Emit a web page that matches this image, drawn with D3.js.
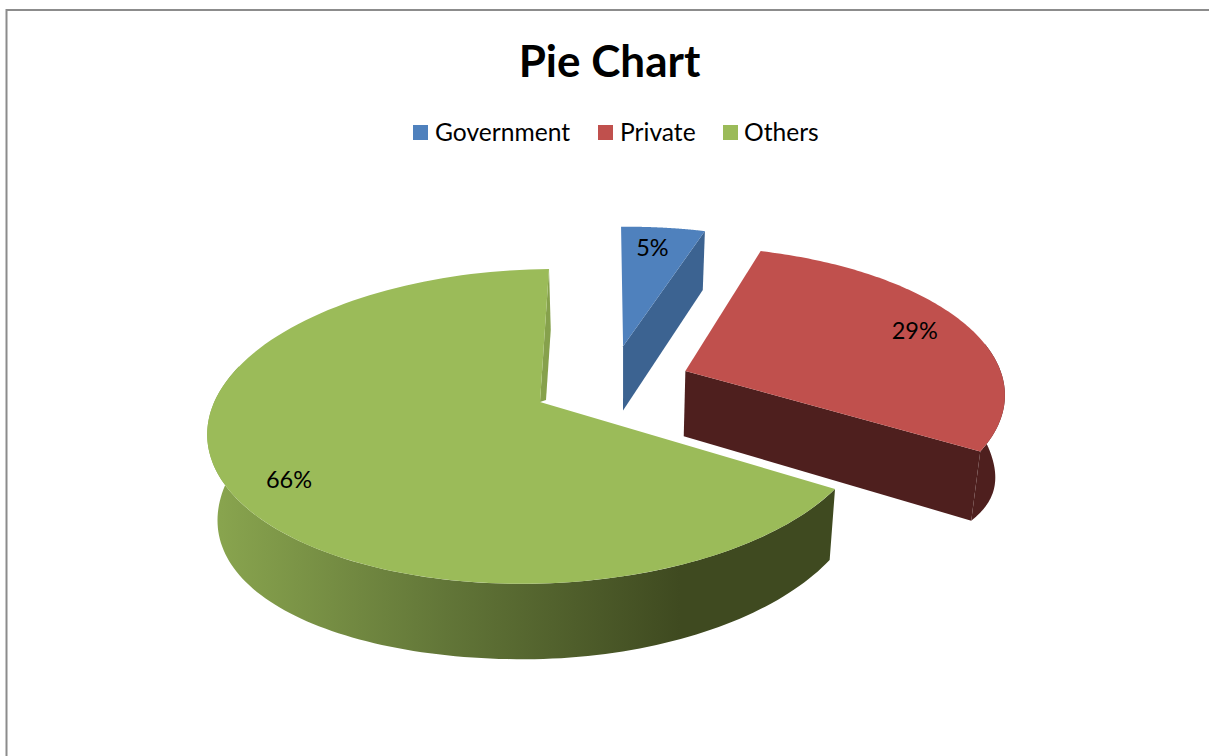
<!DOCTYPE html>
<html>
<head>
<meta charset="utf-8">
<script src="https://cdn.jsdelivr.net/npm/d3@7/dist/d3.min.js"></script>
<style>
html,body{margin:0;padding:0;background:#fff;overflow:hidden}
text{font-family:Lato,"Open Sans",sans-serif;fill:#000}
</style>
</head>
<body>
<svg id="chart" width="1209" height="756"></svg>
<script>
const categories = ["Government", "Private", "Others"];
const values = [5, 29, 66];
const colors = ["#4f81bd", "#c0504d", "#9bbb59"];
const sideColors = ["#3c6391", "#4e1f1e", "url(#greenSide)"];
const explodeU = [0.257, 0.452, 0];
const explodeV = [0.38, 0.2, 0];
const radii = [1, 0.99, 1];
const legendIconX = [413, 598, 723];
const legendTextX = [435, 620, 744];
const labelDx = [-4, 3, -3];
const labelDy = [0, 0, 13];
const titleText = "Pie Chart";

const svg = d3.select("#chart");
const defs = svg.append("defs");
const grad = defs.append("linearGradient").attr("id", "greenSide")
  .attr("gradientUnits", "userSpaceOnUse").attr("x1", 210).attr("x2", 680).attr("y1", 0).attr("y2", 0);
[[0, "#8aa64f"], [0.5, "#627638"], [1, "#3f4a20"]].forEach(([o, c]) =>
  grad.append("stop").attr("offset", o).attr("stop-color", c));

// frame
svg.append("path").attr("d", d3.line()([[6.5, 756], [6.5, 10], [1209, 10]]))
  .attr("fill", "none").attr("stroke", "#8c8c8c").attr("stroke-width", 2);

// title & legend
svg.append("text").attr("x", 609.5).attr("y", 77).attr("text-anchor", "middle")
  .attr("font-size", 44).attr("font-weight", 700).text(titleText);
categories.forEach((c, i) => {
  svg.append("rect").attr("x", legendIconX[i]).attr("y", 125).attr("width", 15).attr("height", 15).attr("fill", colors[i]);
  svg.append("text").attr("x", legendTextX[i]).attr("y", 141).attr("font-size", 24.6).text(c);
});

const arcs = d3.pie().sort(null).value(d => d)(values);
const deg = Math.PI / 180;
const seam = arcs[1].endAngle;

// perspective projection of the pie plane
function project(u, v) {
  const s = 1 / (1 + 0.155 * v);
  return [540 + (327 * u + 10.4 * v) * s, 402 - (3 * u + 153.6 * v) * s];
}
function wallExtra(a) {
  if (a <= 90 * deg) return 18;
  if (a < seam) return 18 * Math.cos((a - 90 * deg) / (seam - 90 * deg) * Math.PI / 2);
  if (a <= 180 * deg) return 0;
  if (a <= 270 * deg) return 18 * Math.sin(a) ** 2;
  return 18;
}
function lower(p, a = null) {
  const extra = a === null ? 0 : wallExtra(a);
  return [620 + (p[0] - 620) * 0.975, p[1] + 59 + (p[1] - 234) * 0.047 + extra];
}
const line = d3.line();
const rimPoint = (i, a, r = radii[i]) => project(explodeU[i] + r * Math.sin(a), explodeV[i] + r * Math.cos(a));
const apex = i => project(explodeU[i], explodeV[i]);
const sweep = (a0, a1) => d3.range(0, 121).map(t => a0 + (a1 - a0) * t / 120);

function drawSlice(i) {
  const a = arcs[i];
  const rim = sweep(a.startAngle, a.endAngle).map(t => rimPoint(i, t));
  const g = svg.append("g");
  // outer wall
  const wall0 = Math.max(a.startAngle, 80 * deg), wall1 = Math.min(a.endAngle, 285 * deg);
  if (wall1 > wall0) {
    const ts = sweep(wall0, wall1);
    const w = ts.map(t => rimPoint(i, t));
    const b = ts.map(t => lower(rimPoint(i, t), t));
    g.append("path").attr("d", line(w.concat(b.reverse())) + "Z").attr("fill", sideColors[i]);
  }
  // cut face towards the viewer
  if (i < 2) {
    const e = rimPoint(i, a.endAngle), c = apex(i);
    g.append("path").attr("d", line([c, e, lower(e), lower(c)]) + "Z").attr("fill", sideColors[i]);
  } else {
    const e = rimPoint(i, 0), c = apex(i), f = project(0.018, 0.012);
    g.append("path").attr("d", line([c, e, lower(e), f]) + "Z").attr("fill", "#86a14c");
  }
  g.append("path").attr("d", line([apex(i)].concat(rim)) + "Z").attr("fill", colors[i]);
}
[2, 0, 1].forEach(drawSlice);

// data labels
arcs.forEach((a, i) => {
  const mid = (a.startAngle + a.endAngle) / 2;
  const p = rimPoint(i, mid, i === 0 ? 0.81 : 0.8);
  svg.append("text").attr("x", p[0] + labelDx[i]).attr("y", p[1] + labelDy[i] + 8)
    .attr("text-anchor", "middle").attr("font-size", 23.5)
    .text(d3.format(".0%")(a.value / d3.sum(values)));
});
</script>
</body>
</html>
